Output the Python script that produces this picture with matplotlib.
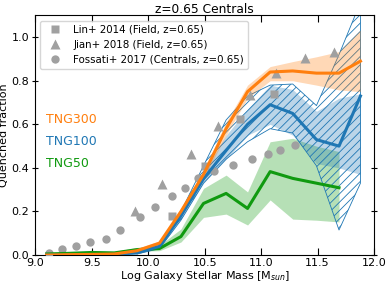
import matplotlib
matplotlib.use('Agg')
import matplotlib.pyplot as plt

matplotlib.rcParams['hatch.linewidth'] = 0.6

# mass bins (log Msun)
mass_bins = [9.1, 9.3, 9.5, 9.7, 9.9, 10.1, 10.29, 10.49, 10.69, 10.88,
             11.08, 11.28, 11.49, 11.69, 11.88]

# TNG300
tng300 = [0.0, 0.002, 0.003, 0.005, 0.02, 0.055, 0.2, 0.37, 0.58, 0.75,
          0.84, 0.845, 0.835, 0.835, 0.89]
tng300_lo = [0.0, 0.0, 0.0, 0.0, 0.01, 0.045, 0.185, 0.35, 0.55, 0.72,
             0.80, 0.80, 0.78, 0.758, 0.75]
tng300_hi = [0.005, 0.006, 0.008, 0.01, 0.03, 0.065, 0.215, 0.39, 0.61, 0.78,
             0.865, 0.888, 0.91, 0.934, 1.034]

# TNG100
tng100 = [0.0, 0.0, 0.002, 0.003, 0.01, 0.04, 0.18, 0.35, 0.48, 0.60,
          0.69, 0.65, 0.53, 0.50, 0.73]
tng100_lo = [0.0, 0.0, 0.0, 0.0, 0.005, 0.03, 0.165, 0.33, 0.44, 0.55,
             0.60, 0.55, 0.42, 0.40, 0.37]
tng100_hi = [0.005, 0.005, 0.006, 0.008, 0.016, 0.05, 0.2, 0.38, 0.55, 0.67,
             0.78, 0.76, 0.66, 0.72, 0.74]

# TNG100 hatched range
hatch_bins = [9.9, 10.1, 10.29, 10.49, 10.69, 10.88, 11.08, 11.28, 11.49, 11.69, 11.88]
hatch_lo = [0.005, 0.03, 0.16, 0.33, 0.44, 0.52, 0.58, 0.56, 0.41, 0.115, 0.33]
hatch_hi = [0.015, 0.05, 0.2, 0.41, 0.62, 0.73, 0.78, 0.785, 0.686, 0.92, 1.16]

# TNG50
tng50_bins = mass_bins[:14]
tng50 = [0.005, 0.008, 0.012, 0.01, 0.025, 0.03, 0.085, 0.237, 0.283, 0.214,
         0.383, 0.352, 0.33, 0.309]
tng50_lo = [0.0, 0.003, 0.007, 0.006, 0.018, 0.02, 0.06, 0.173, 0.188, 0.138,
            0.253, 0.165, 0.16, 0.152]
tng50_hi = [0.01, 0.014, 0.018, 0.016, 0.035, 0.045, 0.12, 0.306, 0.367, 0.29,
            0.52, 0.536, 0.50, 0.475]

# observations
lin_x = [10.21, 10.50, 10.81, 11.11]
lin_y = [0.18, 0.41, 0.625, 0.74]
jian_x = [9.88, 10.125, 10.38, 10.62, 10.90, 11.13, 11.39, 11.65]
jian_y = [0.204, 0.325, 0.462, 0.593, 0.735, 0.837, 0.906, 0.931]
fossati_x = [9.125, 9.24, 9.36, 9.485, 9.63, 9.75, 9.93, 10.06, 10.21, 10.33,
             10.44, 10.58, 10.75, 10.92, 11.06, 11.17, 11.30]
fossati_y = [0.011, 0.028, 0.041, 0.058, 0.072, 0.115, 0.173, 0.219, 0.271, 0.306,
             0.352, 0.386, 0.415, 0.441, 0.465, 0.482, 0.505]

C_ORANGE = '#ff7f0e'
C_BLUE = '#1f77b4'
C_GREEN = '#109a10'
C_GRAY = '#a0a0a0'
LW = 2.2

fig = plt.figure(figsize=(3.9, 2.85), dpi=100)
ax = fig.add_axes([0.0905, 0.105, 0.8685, 0.841])

# bands
ax.fill_between(tng50_bins, tng50_lo, tng50_hi, color=C_GREEN, alpha=0.3, lw=0, zorder=1)
ax.fill_between(mass_bins, tng100_lo, tng100_hi, color=C_BLUE, alpha=0.3, lw=0, zorder=1)
ax.fill_between(hatch_bins, hatch_lo, hatch_hi, facecolor='none', edgecolor=C_BLUE,
                hatch='////', lw=0.6, zorder=2)
ax.fill_between(mass_bins, tng300_lo, tng300_hi, color=C_ORANGE, alpha=0.3, lw=0, zorder=2)

# observations
ax.plot(lin_x, lin_y, 's', color=C_GRAY, ms=6, mec='none', zorder=3,
        label='Lin+ 2014 (Field, z=0.65)')
ax.plot(jian_x, jian_y, '^', color=C_GRAY, ms=6.5, mec='none', zorder=3,
        label='Jian+ 2018 (Field, z=0.65)')
ax.plot(fossati_x, fossati_y, 'o', color=C_GRAY, ms=6, mec='none', zorder=3,
        label='Fossati+ 2017 (Centrals, z=0.65)')

# simulations
ax.plot(tng50_bins, tng50, color=C_GREEN, lw=LW, zorder=4)
ax.plot(mass_bins, tng100, color=C_BLUE, lw=LW, zorder=4)
ax.plot(mass_bins, tng300, color=C_ORANGE, lw=LW, zorder=5)

ax.text(0.032, 0.62, 'TNG300', color=C_ORANGE, fontsize=9, va='center',
        transform=ax.get_yaxis_transform())
ax.text(0.032, 0.52, 'TNG100', color=C_BLUE, fontsize=9, va='center',
        transform=ax.get_yaxis_transform())
ax.text(0.032, 0.42, 'TNG50', color=C_GREEN, fontsize=9, va='center',
        transform=ax.get_yaxis_transform())

ax.legend(loc='upper left', fontsize=7.4, framealpha=0.8)

ax.set_xlim(9.0, 12.0)
ax.set_ylim(0.0, 1.1)
ax.set_xticks([9.0, 9.5, 10.0, 10.5, 11.0, 11.5, 12.0])
ax.set_yticks([0.0, 0.2, 0.4, 0.6, 0.8, 1.0])
ax.tick_params(axis='both', direction='in', top=True, right=True, length=5,
               labelsize=8, pad=2)
ax.tick_params(axis='y', which='major', direction='inout', left=True)

ax.set_title('z=0.65 Centrals', fontsize=8.8, pad=2)
ax.set_xlabel(r'Log Galaxy Stellar Mass [M$_{sun}$]', fontsize=8, labelpad=1)
ax.set_ylabel('Quenched fraction', fontsize=8, labelpad=2)

fig.savefig('out.png', dpi=100)
